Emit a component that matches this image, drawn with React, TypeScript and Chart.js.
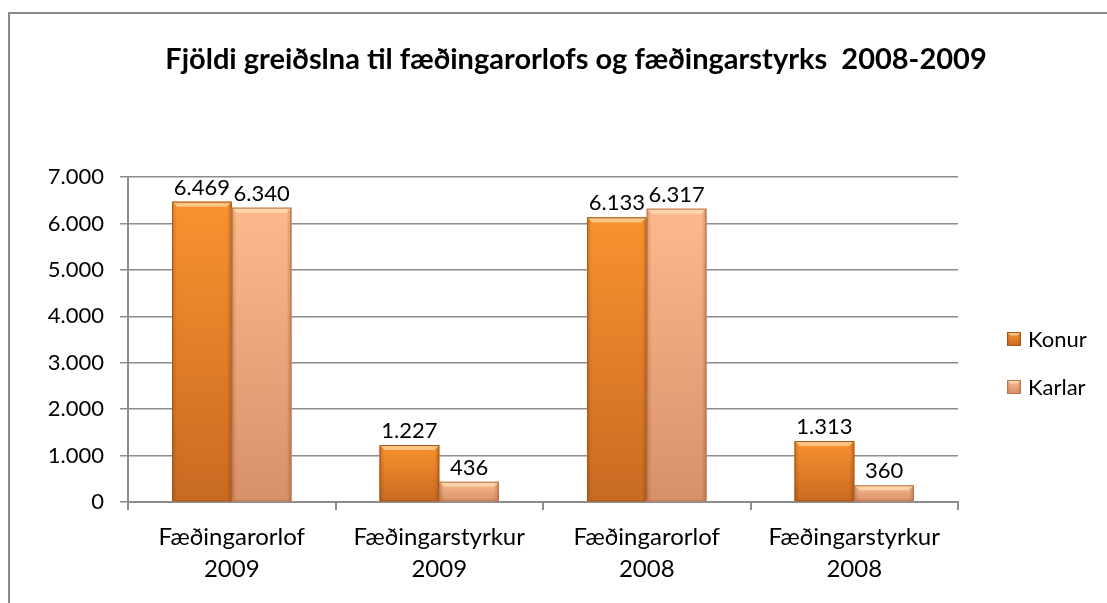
import React, { useEffect, useRef } from "react";
import { Chart, registerables } from "chart.js";

Chart.register(...registerables);

const titleText = "Fjöldi greiðslna til fæðingarorlofs og fæðingarstyrks  2008-2009";
const categories: string[][] = [
  ["Fæðingarorlof", "2009"],
  ["Fæðingarstyrkur", "2009"],
  ["Fæðingarorlof", "2008"],
  ["Fæðingarstyrkur", "2008"],
];
const seriesNames = ["Konur", "Karlar"];
const konur = [6469, 1227, 6133, 1313];
const karlar = [6340, 436, 6317, 360];
const yMin = 0;
const yMax = 7000;
const yStep = 1000;

const FONT = "Lato, 'Open Sans', sans-serif";

const palettes = [
  { top: "#F9922F", bottom: "#C86A22", border: "#A85514" },
  { top: "#FDB98C", bottom: "#D8906B", border: "#B8754F" },
];

const fmt = (v: number) =>
  String(Math.round(v)).replace(/\B(?=(\d{3})+(?!\d))/g, ".");

function drawBevelBox(ctx: CanvasRenderingContext2D, l: number, t: number, r: number, b: number, pal: any) {
  const w = r - l;
  const h = b - t;
  if (h <= 0 || w <= 0) return;
  const g = ctx.createLinearGradient(0, t, 0, b);
  g.addColorStop(0, pal.top);
  g.addColorStop(1, pal.bottom);
  ctx.fillStyle = g;
  ctx.fillRect(l, t, w, h);
  const s = Math.min(5, h / 2, w / 4);
  const gl = ctx.createLinearGradient(l, 0, l + s, 0);
  gl.addColorStop(0, "rgba(90,40,0,0.22)");
  gl.addColorStop(1, "rgba(90,40,0,0)");
  ctx.fillStyle = gl;
  ctx.fillRect(l, t, s, h);
  const gr = ctx.createLinearGradient(r - s, 0, r, 0);
  gr.addColorStop(0, "rgba(90,40,0,0)");
  gr.addColorStop(1, "rgba(90,40,0,0.28)");
  ctx.fillStyle = gr;
  ctx.fillRect(r - s, t, s, h);
  ctx.beginPath();
  ctx.moveTo(l, t);
  ctx.lineTo(r, t);
  ctx.lineTo(r - s, t + s);
  ctx.lineTo(l + s, t + s);
  ctx.closePath();
  ctx.fillStyle = "rgba(255,240,200,0.55)";
  ctx.fill();
  ctx.strokeStyle = pal.border;
  ctx.lineWidth = 1;
  ctx.strokeRect(l + 0.5, t + 0.5, w - 1, h - 1);
}

const bevelPlugin = {
  id: "bevelBars",
  afterDatasetsDraw(chart: any) {
    const ctx: CanvasRenderingContext2D = chart.ctx;
    ctx.save();
    chart.data.datasets.forEach((ds: any, di: number) => {
      const meta = chart.getDatasetMeta(di);
      if (meta.hidden) return;
      meta.data.forEach((el: any, i: number) => {
        const p = el.getProps(["x", "y", "base", "width"], true);
        const l = p.x - p.width / 2;
        const r = p.x + p.width / 2;
        const t = Math.min(p.y, p.base);
        const b = Math.max(p.y, p.base);
        drawBevelBox(ctx, l, t, r, b, palettes[di]);
        ctx.fillStyle = "#000";
        ctx.font = `22px ${FONT}`;
        ctx.textAlign = "center";
        ctx.textBaseline = "alphabetic";
        ctx.fillText(fmt(ds.data[i]), p.x, t - 7);
      });
    });
    ctx.restore();
  },
  afterDraw(chart: any) {
    const ctx: CanvasRenderingContext2D = chart.ctx;
    ctx.save();
    ctx.fillStyle = "#000";
    ctx.font = `bold 29px ${FONT}`;
    ctx.textAlign = "center";
    ctx.textBaseline = "middle";
    ctx.fillText(titleText, 576, 60);
    const area = chart.chartArea;
    const lx = area.right + 49;
    const ys = [339, 387];
    chart.data.datasets.forEach((ds: any, di: number) => {
      const y = ys[di];
      drawBevelBox(ctx, lx, y - 7, lx + 14, y + 7, palettes[di]);
      ctx.fillStyle = "#000";
      ctx.font = `22px ${FONT}`;
      ctx.textAlign = "left";
      ctx.textBaseline = "middle";
      ctx.fillText(ds.label, lx + 21, y + 1);
    });
    ctx.restore();
  },
};

export default function App() {
  const ref = useRef<HTMLCanvasElement | null>(null);

  useEffect(() => {
    if (!ref.current) return;
    const chart = new Chart(ref.current, {
      type: "bar",
      data: {
        labels: categories,
        datasets: [
          { label: seriesNames[0], data: konur, backgroundColor: palettes[0].top, borderWidth: 0 },
          { label: seriesNames[1], data: karlar, backgroundColor: palettes[1].top, borderWidth: 0 },
        ],
      },
      options: {
        animation: false,
        responsive: false,
        maintainAspectRatio: false,
        layout: { padding: { left: 0, right: 149, top: 177, bottom: 6 } },
        datasets: { bar: { categoryPercentage: 0.575, barPercentage: 1 } },
        plugins: {
          legend: { display: false },
          title: { display: false },
          tooltip: { enabled: false },
        },
        scales: {
          x: {
            afterFit: (s: any) => { s.height = 95; },
            grid: { drawOnChartArea: false, drawTicks: true, tickLength: 8, color: "#8c8c8c", lineWidth: 2, offset: true },
            border: { color: "#8c8c8c", width: 2 },
            ticks: { color: "#000", font: { family: FONT, size: 24, lineHeight: 1.35 }, padding: 11, maxRotation: 0, autoSkip: false },
          },
          y: {
            min: yMin,
            max: yMax,
            afterFit: (s: any) => { s.width = 128; },
            grid: { color: "#8c8c8c", lineWidth: 1.5, tickLength: 8 },
            border: { color: "#8c8c8c", width: 2 },
            ticks: {
              stepSize: yStep,
              color: "#000",
              font: { family: FONT, size: 22 },
              padding: 16,
              callback: (v: any) => fmt(Number(v)),
            },
          },
        },
      },
      plugins: [bevelPlugin],
    });
    return () => chart.destroy();
  }, []);

  return (
    <div style={{ position: "absolute", left: 0, top: 0, width: 1107, height: 603, background: "#fff", overflow: "hidden" }}>
      <div
        style={{
          position: "absolute",
          left: 8,
          top: 12,
          width: 1110,
          height: 610,
          border: "2px solid #8a8a8a",
          boxSizing: "border-box",
        }}
      />
      <canvas ref={ref} width={1107} height={603} style={{ position: "absolute", left: 0, top: 0, width: 1107, height: 603 }} />
    </div>
  );
}
